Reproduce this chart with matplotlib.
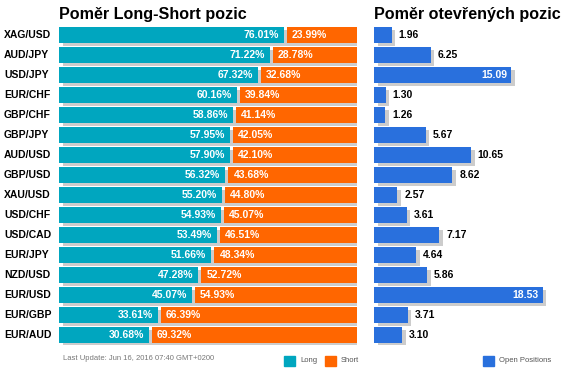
import matplotlib
matplotlib.use('Agg')
import matplotlib.pyplot as plt
import matplotlib.patheffects as pe
from matplotlib.patches import Rectangle

plt.rcParams['font.family'] = ['Liberation Sans', 'DejaVu Sans']

pairs = ['XAG/USD', 'AUD/JPY', 'USD/JPY', 'EUR/CHF', 'GBP/CHF', 'GBP/JPY', 'AUD/USD',
         'GBP/USD', 'XAU/USD', 'USD/CHF', 'USD/CAD', 'EUR/JPY', 'NZD/USD', 'EUR/USD',
         'EUR/GBP', 'EUR/AUD']
long_pct = [76.01, 71.22, 67.32, 60.16, 58.86, 57.95, 57.90, 56.32, 55.20, 54.93,
            53.49, 51.66, 47.28, 45.07, 33.61, 30.68]
short_pct = [23.99, 28.78, 32.68, 39.84, 41.14, 42.05, 42.10, 43.68, 44.80, 45.07,
             46.51, 48.34, 52.72, 54.93, 66.39, 69.32]
open_pos = [1.96, 6.25, 15.09, 1.30, 1.26, 5.67, 10.65, 8.62, 2.57, 3.61, 7.17,
            4.64, 5.86, 18.53, 3.71, 3.10]

TEAL = '#00A6BF'
ORANGE = '#FF6600'
BLUE = '#2970DD'
shadow_fx = pe.SimplePatchShadow(offset=(2.6, -2.2), shadow_rgbFace='#cccccc', alpha=1.0)

W, H = 565, 375
fig = plt.figure(figsize=(W / 100, H / 100), dpi=100)


def px_axes(x0, x1, y0, y1):
    return fig.add_axes([x0 / W, 1 - y1 / H, (x1 - x0) / W, (y1 - y0) / H])


n = len(pairs)
ypos = list(range(n))

# left panel: long / short ratio
ax1 = px_axes(59, 357, 25, 345)
ax1.set_xlim(0, 100)
ax1.set_ylim(n - 0.5, -0.5)
ax1.axis('off')
gap = 0.5
# shadow behind the whole bar
sh = ax1.barh(ypos, [100] * n, height=0.8, color='none')
for b in sh:
    b.set_path_effects([shadow_fx])
ax1.barh(ypos, [l - gap for l in long_pct], height=0.8, color=TEAL)
ax1.barh(ypos, [s - gap for s in short_pct], left=[l + gap for l in long_pct],
         height=0.8, color=ORANGE)
for i in ypos:
    ax1.text(long_pct[i] - gap - 1.7, i, f'{long_pct[i]:.2f}%', ha='right', va='center',
             color='white', fontsize=7.5, fontweight='bold')
    ax1.text(long_pct[i] + gap + 1.7, i, f'{short_pct[i]:.2f}%', ha='left', va='center',
             color='white', fontsize=7.5, fontweight='bold')
    fig.text(4 / W, 1 - (35 + 20 * i) / H, pairs[i], ha='left', va='center',
             fontsize=7.5, fontweight='bold', color='black')

fig.text(59 / W, 1 - 15 / H, 'Poměr Long-Short pozic', ha='left', va='center',
         fontsize=11.6, fontweight='bold')

# right panel: open positions
ax2 = px_axes(374, 560, 25, 345)
ax2.set_xlim(0, 186 / 9.1)
ax2.set_ylim(n - 0.5, -0.5)
ax2.axis('off')
bars = ax2.barh(ypos, open_pos, height=0.8, color=BLUE)
for b in bars:
    b.set_path_effects([shadow_fx, pe.Normal()])
for i in ypos:
    v = open_pos[i]
    if v > 12:
        ax2.text(v - 0.45, i, f'{v:.2f}', ha='right', va='center', color='white',
                 fontsize=7.5, fontweight='bold')
    else:
        ax2.text(v + 0.75, i, f'{v:.2f}', ha='left', va='center', color='black',
                 fontsize=7.5, fontweight='bold')

fig.text(374 / W, 1 - 15 / H, 'Poměr otevřených pozic', ha='left', va='center',
         fontsize=11.6, fontweight='bold')

# footer
fig.text(63 / W, 1 - 359 / H, 'Last Update: Jun 16, 2016 07:40 GMT+0200', ha='left',
         va='center', fontsize=5.5, color='#777777')
for x0, col, lab in [(284, TEAL, 'Long'), (325, ORANGE, 'Short'), (483, BLUE, 'Open Positions')]:
    fig.patches.append(Rectangle((x0 / W, 1 - 366 / H), 11 / W, 10 / H,
                                 transform=fig.transFigure, color=col))
    fig.text((x0 + 16) / W, 1 - 361 / H, lab, ha='left', va='center', fontsize=5.5,
             color='#555555')

fig.savefig('out.png', dpi=100)
